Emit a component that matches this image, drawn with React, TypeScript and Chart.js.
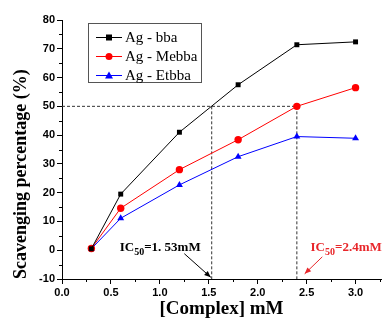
import React, { useEffect, useRef } from "react";
import { Chart, registerables } from "chart.js";

Chart.register(...registerables);

const concentrations = [0.3, 0.6, 1.2, 1.8, 2.4, 3.0];
const bbaValues = [0.5, 19.5, 41, 57.5, 71.4, 72.4];
const mebbaValues = [0.6, 14.6, 28, 38.4, 50, 56.5];
const etbbaValues = [0.5, 11.1, 22.7, 32.5, 39.5, 38.9];
const seriesNames = ["Ag - bba", "Ag - Mebba", "Ag - Etbba"];
const xTickValues = [0, 0.5, 1.0, 1.5, 2.0, 2.5, 3.0];
const ic50Level = 50;
const ic50Bba = 1.53;
const ic50Mebba = 2.4;

const SERIF = "'Liberation Serif', 'Times New Roman', serif";
const SANS = "'Liberation Sans', Arial, sans-serif";

function toPoints(vals: number[]) {
  return concentrations.map((x, i) => ({ x, y: vals[i] }));
}

const extrasPlugin = {
  id: "extras",
  beforeDatasetsDraw(chart: any) {
    const { ctx } = chart;
    const xs = chart.scales.x;
    const ys = chart.scales.y;
    ctx.save();
    ctx.strokeStyle = "#333";
    ctx.lineWidth = 1;
    ctx.setLineDash([3, 2]);
    const y50 = ys.getPixelForValue(ic50Level);
    const yBottom = ys.getPixelForValue(-10);
    ctx.beginPath();
    ctx.moveTo(xs.getPixelForValue(0), y50);
    ctx.lineTo(xs.getPixelForValue(ic50Mebba), y50);
    ctx.moveTo(xs.getPixelForValue(ic50Bba), y50);
    ctx.lineTo(xs.getPixelForValue(ic50Bba), yBottom);
    ctx.moveTo(xs.getPixelForValue(ic50Mebba), y50);
    ctx.lineTo(xs.getPixelForValue(ic50Mebba), yBottom);
    ctx.stroke();
    ctx.restore();
  },
  afterDraw(chart: any) {
    const { ctx } = chart;
    const xs = chart.scales.x;
    const ys = chart.scales.y;
    ctx.save();
    // minor ticks
    ctx.strokeStyle = "#000";
    ctx.lineWidth = 1;
    ctx.beginPath();
    for (let v = 0.25; v <= 3.3; v += 0.5) {
      const px = Math.round(xs.getPixelForValue(v)) + 0.5;
      ctx.moveTo(px, ys.bottom);
      ctx.lineTo(px, ys.bottom + 3);
    }
    for (let v = -5; v < 80; v += 10) {
      const py = Math.round(ys.getPixelForValue(v)) + 0.5;
      ctx.moveTo(xs.left, py);
      ctx.lineTo(xs.left - 3, py);
    }
    ctx.stroke();

    // annotations
    const drawIC = (x: number, y: number, rest: string, color: string) => {
      ctx.fillStyle = color;
      ctx.textBaseline = "alphabetic";
      ctx.textAlign = "left";
      ctx.font = `bold 13px ${SERIF}`;
      ctx.fillText("IC", x, y);
      let w = ctx.measureText("IC").width;
      ctx.font = `bold 10px ${SERIF}`;
      ctx.fillText("50", x + w, y + 4);
      w += ctx.measureText("50").width;
      ctx.font = `bold 13px ${SERIF}`;
      ctx.fillText(rest, x + w, y);
    };
    drawIC(xs.getPixelForValue(0.59), ys.getPixelForValue(-0.4), "=1. 53mM", "#000");
    drawIC(xs.getPixelForValue(2.54), ys.getPixelForValue(-0.4), "=2.4mM", "#e8262a");

    const arrow = (x1: number, y1: number, x2: number, y2: number, color: string) => {
      const p1 = { x: xs.getPixelForValue(x1), y: ys.getPixelForValue(y1) };
      const p2 = { x: xs.getPixelForValue(x2), y: ys.getPixelForValue(y2) };
      const ang = Math.atan2(p2.y - p1.y, p2.x - p1.x);
      ctx.strokeStyle = color;
      ctx.fillStyle = color;
      ctx.lineWidth = 1;
      ctx.setLineDash([]);
      ctx.beginPath();
      ctx.moveTo(p1.x, p1.y);
      ctx.lineTo(p2.x, p2.y);
      ctx.stroke();
      const L = 7, W = 0.4;
      ctx.beginPath();
      ctx.moveTo(p2.x, p2.y);
      ctx.lineTo(p2.x - L * Math.cos(ang - W), p2.y - L * Math.sin(ang - W));
      ctx.lineTo(p2.x - L * Math.cos(ang + W), p2.y - L * Math.sin(ang + W));
      ctx.closePath();
      ctx.fill();
    };
    arrow(1.25, -1.2, 1.52, -9.4, "#000");
    arrow(2.66, -2.3, 2.48, -8.2, "#e8262a");

    // legend
    const lx = 88, ly = 23, lw = 113, lh = 59;
    ctx.strokeStyle = "#555";
    ctx.lineWidth = 1;
    ctx.strokeRect(lx + 0.5, ly + 0.5, lw, lh);
    chart.data.datasets.forEach((ds: any, i: number) => {
      const cy = ly + 14 + i * 19;
      ctx.strokeStyle = ds.borderColor;
      ctx.beginPath();
      ctx.moveTo(lx + 8, cy + 0.5);
      ctx.lineTo(lx + 34, cy + 0.5);
      ctx.stroke();
      ctx.fillStyle = ds.pointBackgroundColor;
      const mx = lx + 21;
      if (ds.pointStyle === "rect") {
        ctx.fillRect(mx - 3, cy - 2.5, 6, 6);
      } else if (ds.pointStyle === "circle") {
        ctx.beginPath();
        ctx.arc(mx, cy + 0.5, 3.5, 0, Math.PI * 2);
        ctx.fill();
      } else {
        ctx.beginPath();
        ctx.moveTo(mx, cy - 3.5);
        ctx.lineTo(mx + 4, cy + 3.5);
        ctx.lineTo(mx - 4, cy + 3.5);
        ctx.closePath();
        ctx.fill();
      }
      ctx.fillStyle = "#000";
      ctx.font = `15px ${SERIF}`;
      ctx.textBaseline = "middle";
      ctx.textAlign = "left";
      ctx.fillText(ds.label, lx + 37, cy + 1);
    });
    ctx.restore();
  },
};

export default function App() {
  const ref = useRef<HTMLCanvasElement>(null);
  useEffect(() => {
    document.body.style.margin = "0";
    const canvas = ref.current!;
    const mk = (label: string, vals: number[], color: string, style: string, r: number) => ({
      label,
      data: toPoints(vals),
      borderColor: color,
      backgroundColor: color,
      pointBackgroundColor: color,
      pointBorderColor: color,
      pointStyle: style,
      pointRadius: r,
      pointBorderWidth: 0,
      borderWidth: 1,
      showLine: true,
      fill: false,
    });
    const chart = new Chart(canvas, {
      type: "scatter",
      data: {
        datasets: [
          mk(seriesNames[0], bbaValues, "#000000", "rect", 3.5),
          mk(seriesNames[1], mebbaValues, "#ff0000", "circle", 3.7),
          mk(seriesNames[2], etbbaValues, "#0000ff", "triangle", 4),
        ],
      },
      options: {
        animation: false,
        responsive: false,
        devicePixelRatio: 1,
        layout: { padding: { top: 20, right: 0, left: 0, bottom: 0 } },
        plugins: { legend: { display: false }, tooltip: { enabled: false } },
        scales: {
          x: {
            type: "linear",
            min: 0,
            max: 3.26,
            afterBuildTicks: (s: any) => {
              s.ticks = xTickValues.map((v) => ({ value: v }));
            },
            afterFit: (s: any) => {
              s.height = 45;
            },
            grid: { drawOnChartArea: false, drawTicks: true, tickLength: 5, color: "#000" },
            border: { display: true, color: "#000", width: 1 },
            ticks: {
              color: "#000",
              font: { family: SANS, size: 11, weight: "bold" },
              padding: 2,
              maxRotation: 0,
              callback: (v: any) => Number(v).toFixed(1),
            },
            title: {
              display: true,
              text: "[Complex] mM",
              color: "#000",
              font: { family: SERIF, size: 19, weight: "bold" },
              padding: { top: 0, bottom: 4 },
            },
          },
          y: {
            min: -10,
            max: 80,
            afterFit: (s: any) => {
              s.width = 62;
            },
            grid: { drawOnChartArea: false, drawTicks: true, tickLength: 5, color: "#000" },
            border: { display: true, color: "#000", width: 1 },
            ticks: {
              stepSize: 10,
              color: "#000",
              font: { family: SANS, size: 11, weight: "bold" },
              padding: 2,
            },
            title: {
              display: true,
              align: "start",
              text: "Scavenging percentage (%)",
              color: "#000",
              font: { family: SERIF, size: 18, weight: "bold" },
              padding: { top: 11, bottom: 0 },
            },
          },
        },
      } as any,
      plugins: [extrasPlugin],
    });
    return () => chart.destroy();
  }, []);
  return <canvas ref={ref} width={385} height={324} style={{ display: "block" }} />;
}
